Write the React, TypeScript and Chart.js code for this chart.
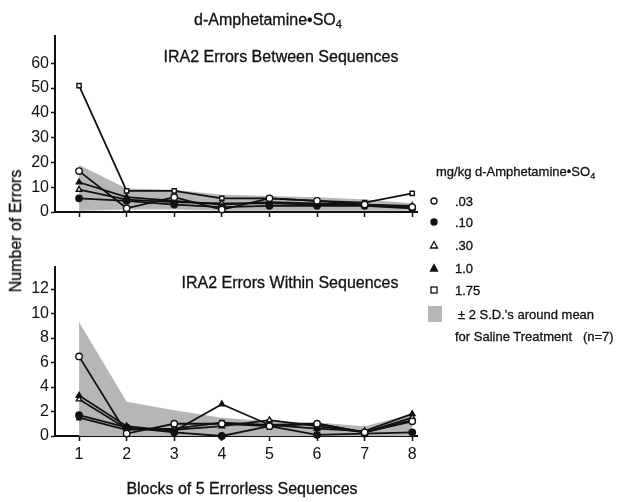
import React, { useEffect, useRef } from "react";
import { Chart, registerables } from "chart.js";

Chart.register(...registerables);

// ---------- data ----------
const blocks = [1, 2, 3, 4, 5, 6, 7, 8];
const doseLabels = [".03", ".10", ".30", "1.0", "1.75"];

// IRA2 Errors Between Sequences
const betweenDose003 = [16.5, 1.5, 6, 1, 5.5, 4.5, 3, 2];
const betweenDose010 = [5.5, 4.5, 3, 2, 2.5, 2.5, 2.5, 1.5];
const betweenDose030 = [9, 5, 4, 3.5, 3.5, 3, 3, 2.5];
const betweenDose100 = [12, 6, 4.5, 3, 4, 3.5, 3, 2];
const betweenDose175 = [51, 8.5, 8.5, 5.5, 5.5, 4.5, 3.8, 7.5];
const betweenSalineUpper = [19, 9.5, 9, 7, 6.5, 6, 5, 3.5];
const betweenSalineLower = [0.5, 1, 1, 0.5, 0.5, 0.5, 0.5, 0.5];

// IRA2 Errors Within Sequences
const withinDose003 = [6.5, 0.2, 1.0, 1.0, 0.8, 1.0, 0.3, 1.2];
const withinDose010 = [1.7, 0.7, 0.3, 0.0, 0.8, 0.1, 0.2, 0.3];
const withinDose030 = [3.0, 0.6, 0.5, 0.8, 1.3, 0.8, 0.3, 1.5];
const withinDose100 = [3.3, 0.8, 0.4, 2.6, 0.9, 0.6, 0.4, 1.8];
const withinDose175 = [1.5, 0.5, 0.6, 1.1, 0.9, 1.0, 0.3, 1.3];
const withinSalineUpper = [9.3, 2.8, 2.1, 1.5, 1.2, 1.1, 0.8, 1.8];
const withinSalineLower = [0, 0, 0, 0, 0, 0, 0, 0];

const topYTicks = [0, 10, 20, 30, 40, 50, 60];
const bottomYTicks = [0, 2, 4, 6, 8, 10, 12];

// ---------- style ----------
const FONT = "'Liberation Sans', Arial, Helvetica, sans-serif";
const INK = "#111";
const BAND = "#b6b6b6";

const markerStyles = [
  { pointStyle: "circle", fill: "#fff" },
  { pointStyle: "circle", fill: INK },
  { pointStyle: "triangle", fill: "#fff" },
  { pointStyle: "triangle", fill: INK },
  { pointStyle: "rect", fill: "#fff" },
];

function buildDatasets(series: number[][], upper: number[], lower: number[]) {
  const lines = series.map((vals, i) => ({
    label: doseLabels[i],
    data: blocks.map((b, j) => ({ x: b, y: vals[j] })),
    borderColor: INK,
    borderWidth: 1.8,
    pointStyle: markerStyles[i].pointStyle,
    pointRadius: markerStyles[i].pointStyle === "rect" ? 3 : 3.2,
    pointBorderWidth: 1.4,
    pointBorderColor: INK,
    pointBackgroundColor: markerStyles[i].fill,
    fill: false,
    clip: false,
  }));
  const n = lines.length;
  return [
    ...lines,
    {
      label: "upper",
      data: blocks.map((b, j) => ({ x: b, y: upper[j] })),
      borderWidth: 0,
      borderColor: "rgba(0,0,0,0)",
      pointRadius: 0,
      backgroundColor: BAND,
      fill: n + 1,
    },
    {
      label: "lower",
      data: blocks.map((b, j) => ({ x: b, y: lower[j] })),
      borderWidth: 0,
      borderColor: "rgba(0,0,0,0)",
      pointRadius: 0,
      fill: false,
    },
  ];
}

function makeConfig(opts: {
  series: number[][];
  upper: number[];
  lower: number[];
  yMax: number;
  yTicks: number[];
  showXLabels: boolean;
  padding: { left: number; top: number; right: number; bottom: number };
  xHeight: number;
}): any {
  return {
    type: "line",
    data: { datasets: buildDatasets(opts.series, opts.upper, opts.lower) },
    options: {
      animation: false,
      responsive: false,
      events: [],
      layout: { padding: opts.padding },
      plugins: {
        legend: { display: false },
        tooltip: { enabled: false },
        title: { display: false },
        filler: { drawTime: "beforeDatasetsDraw" },
      },
      scales: {
        x: {
          type: "linear",
          min: 0.495,
          max: 8.1,
          afterBuildTicks: (ax: any) => {
            ax.ticks = blocks.map((v) => ({ value: v }));
          },
          afterFit: (ax: any) => {
            ax.height = opts.xHeight;
          },
          grid: {
            drawOnChartArea: false,
            drawTicks: true,
            tickLength: 5,
            color: INK,
            tickWidth: 1.5,
          },
          border: { display: true, color: INK, width: 2 },
          ticks: {
            display: opts.showXLabels,
            color: INK,
            padding: 4,
            font: { family: FONT, size: 16 },
            callback: (v: any) => String(v),
          },
        },
        y: {
          min: 0,
          max: opts.yMax,
          afterBuildTicks: (ax: any) => {
            ax.ticks = opts.yTicks.map((v) => ({ value: v }));
          },
          afterFit: (ax: any) => {
            ax.width = 55;
          },
          grid: {
            drawOnChartArea: false,
            drawTicks: true,
            tickLength: 4,
            color: INK,
            tickWidth: 1.5,
          },
          border: { display: true, color: INK, width: 2 },
          ticks: {
            color: INK,
            padding: 2,
            font: { family: FONT, size: 16 },
            callback: (v: any) => String(v),
          },
        },
      },
    },
  };
}

function Marker({ i }: { i: number }) {
  const st = markerStyles[i];
  const fill = st.fill;
  let shape;
  if (st.pointStyle === "circle") shape = <circle cx={5} cy={5} r={3} fill={fill} stroke={INK} strokeWidth={1.4} />;
  else if (st.pointStyle === "triangle") shape = <polygon points="5,1.5 8.5,8 1.5,8" fill={fill} stroke={INK} strokeWidth={1.3} />;
  else shape = <rect x={2} y={2} width={6} height={6} fill={fill} stroke={INK} strokeWidth={1.3} />;
  return (
    <svg width={10} height={10} style={{ position: "absolute", left: -5, top: -5 }}>
      {shape}
    </svg>
  );
}

const abs = (left: number, top: number, extra: any = {}): any => ({
  position: "absolute",
  left,
  top,
  whiteSpace: "nowrap",
  fontFamily: FONT,
  color: INK,
  WebkitTextStroke: "0.3px #111",
  ...extra,
});

export default function App() {
  const topRef = useRef<HTMLCanvasElement>(null);
  const botRef = useRef<HTMLCanvasElement>(null);

  useEffect(() => {
    const top = new Chart(
      topRef.current as HTMLCanvasElement,
      makeConfig({
        series: [betweenDose003, betweenDose010, betweenDose030, betweenDose100, betweenDose175],
        upper: betweenSalineUpper,
        lower: betweenSalineLower,
        yMax: 71,
        yTicks: topYTicks,
        showXLabels: false,
        padding: { left: 0, top: 36, right: 206, bottom: 18 },
        xHeight: 10,
      })
    );
    const bot = new Chart(
      botRef.current as HTMLCanvasElement,
      makeConfig({
        series: [withinDose003, withinDose010, withinDose030, withinDose100, withinDose175],
        upper: withinSalineUpper,
        lower: withinSalineLower,
        yMax: 13.8,
        yTicks: bottomYTicks,
        showXLabels: true,
        padding: { left: 0, top: 27, right: 206, bottom: 36 },
        xHeight: 30,
      })
    );
    return () => {
      top.destroy();
      bot.destroy();
    };
  }, []);

  const legendRows = [201, 222, 245, 268, 290];

  return (
    <div style={{ position: "absolute", left: 0, top: 0, width: 623, height: 502, background: "#fff", overflow: "hidden" }}>
      <canvas ref={topRef} width={623} height={240} style={{ position: "absolute", left: 0, top: 0 }} />
      <canvas ref={botRef} width={623} height={262} style={{ position: "absolute", left: 0, top: 240 }} />

      {/* main title */}
      <div style={abs(268, 20, { transform: "translate(-50%,-50%)", fontSize: 16 })}>
        d-Amphetamine•SO<sub style={{ fontSize: 11, verticalAlign: "-3px" }}>4</sub>
      </div>
      {/* panel titles */}
      <div style={abs(281, 57, { transform: "translate(-50%,-50%)", fontSize: 16 })}>IRA2 Errors Between Sequences</div>
      <div style={abs(290, 283, { transform: "translate(-50%,-50%)", fontSize: 16 })}>IRA2 Errors Within Sequences</div>
      {/* axis titles */}
      <div style={abs(16, 231, { transform: "translate(-50%,-50%) rotate(-90deg)", fontSize: 16 })}>Number of Errors</div>
      <div style={abs(242, 489, { transform: "translate(-50%,-50%)", fontSize: 16 })}>Blocks of 5 Errorless Sequences</div>

      {/* legend */}
      <div style={abs(436, 172, { transform: "translateY(-50%)", fontSize: 13 })}>
        mg/kg d-Amphetamine•SO<sub style={{ fontSize: 9, verticalAlign: "-3px" }}>4</sub>
      </div>
      {doseLabels.map((lab, i) => (
        <React.Fragment key={lab}>
          <div style={{ position: "absolute", left: 434, top: legendRows[i] }}>
            <Marker i={i} />
          </div>
          <div style={abs(455, legendRows[i], { transform: "translateY(-50%)", fontSize: 13 })}>{lab}</div>
        </React.Fragment>
      ))}
      <div style={{ position: "absolute", left: 428, top: 306, width: 14, height: 16, background: BAND }} />
      <div style={abs(458, 314, { transform: "translateY(-50%)", fontSize: 13 })}>± 2 S.D.'s around mean</div>
      <div style={abs(455, 336, { transform: "translateY(-50%)", fontSize: 13 })}>for Saline Treatment&nbsp;&nbsp;&nbsp;(n=7)</div>
    </div>
  );
}
